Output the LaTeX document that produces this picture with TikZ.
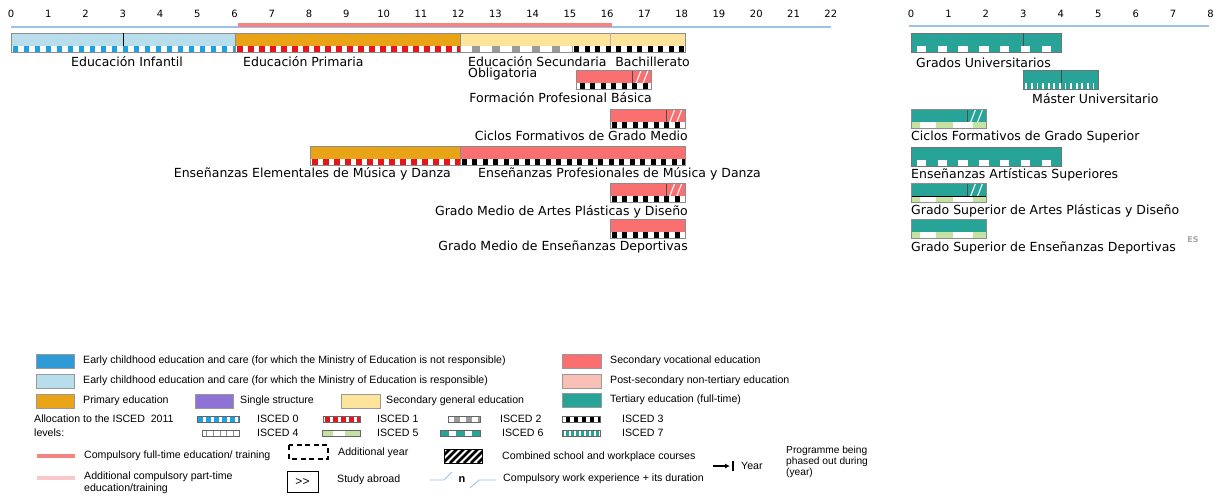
\documentclass[tikz,border=0pt]{standalone}
\usepackage{fontspec}
\setmainfont{DejaVu Sans}
\newfontfamily\legfont{Liberation Sans}
\usetikzlibrary{arrows.meta}
\definecolor{ececNR}{HTML}{2E9BD6}
\definecolor{ececR}{HTML}{B8DDEB}
\definecolor{prim}{HTML}{E8A317}
\definecolor{single}{HTML}{8E72D6}
\definecolor{secgen}{HTML}{FDE49A}
\definecolor{secvoc}{HTML}{FA7070}
\definecolor{postsec}{HTML}{F9C0B8}
\definecolor{tert}{HTML}{28A398}
\definecolor{iscA}{HTML}{1DA1E2}
\definecolor{iscB}{HTML}{E8141C}
\definecolor{iscC}{HTML}{9A9A9A}
\definecolor{iscE}{HTML}{C5E2A5}
\definecolor{axisblue}{HTML}{9CC2E5}
\definecolor{compred}{HTML}{F28482}
\definecolor{comppink}{HTML}{FAC8CB}
\newcommand{\wslash}[2]{\draw[slash] (#1,#2) ++(3.5pt,0pt) -- ++(5pt,13pt) ++(2pt,-13pt) -- ++(5pt,13pt);}
\begin{document}
\begin{tikzpicture}[x=1pt,y=-1pt,
  lbl/.style={font=\fontsize{12.5}{15}\selectfont, inner sep=0pt},
  tick/.style={font=\fontsize{10}{12}\selectfont, inner sep=0pt},
  leg/.style={font=\legfont\fontsize{10.6}{12}\selectfont, inner sep=0pt, anchor=west},
  barline/.style={draw=black!45, line width=0.5pt},
  divider/.style={draw=black!70, line width=0.6pt},
  slash/.style={draw=white, line width=1.1pt},
  sA/.style={draw=iscA, line width=6pt, dash pattern=on 5.5pt off 5.5pt},
  sB/.style={draw=iscB, line width=6pt, dash pattern=on 5.5pt off 5.5pt},
  sC/.style={draw=iscC, line width=6pt, dash pattern=on 8.3pt off 11.7pt},
  sD/.style={draw=black, line width=6pt, dash pattern=on 5pt off 5.5pt},
  sF/.style={draw=white, line width=6pt, dash pattern=on 9.5pt off 11.3pt},
  sG/.style={draw=white, line width=6pt, dash pattern=on 1.8pt off 3.8pt},
  smp/.style={draw=black!60, line width=0.4pt}
]
\fill[white] (0,0) rectangle (1217,496);
\useasboundingbox (0,0) rectangle (1217,496);

% ---------------- left time line ----------------
\begin{scope}[shift={(11,0)}, x=37.45pt]
  \foreach \i in {0,...,22} \node[tick] (tL\i) at (\i*0.995,14) {\i};
  \draw[axisblue, line width=1.2pt] (0,27) -- (21.9,27);
  \draw[compred, line width=3.5pt] (6.05,25) -- (16.05,25);

  % row 1
  \fill[ececR] (0,33) rectangle (6,46);
  \fill[prim] (6,33) rectangle (12,46);
  \fill[secgen] (12,33) rectangle (18,46);
  \fill[white] (0,46) rectangle (18,52);
  \draw[sA] (0,49) ++(1.5pt,0) -- (6,49);
  \draw[sB] (6,49) ++(1.5pt,0) -- (12,49);
  \draw[sC] (12,49) ++(11.7pt,0) -- (15,49);
  \draw[sD] (15,49) ++(1.5pt,0) -- (18,49);
  \draw[barline] (0,33) rectangle (6,52) (6,33) rectangle (12,52) (12,33) rectangle (18,52);
  \draw[black, line width=0.7pt] (3,33) -- (3,46);
  \draw[black!30, line width=0.5pt] (16,33) -- (16,46);

  % row 2 FP Basica
  \fill[secvoc] (15.1,70) rectangle (17.1,83);
  \fill[white] (15.1,83) rectangle (17.1,89);
  \draw[sD] (15.1,86) ++(3pt,0) -- (17.1,86);
  \draw[divider] (16.6,70) -- (16.6,83);
  \wslash{16.6}{83}
  \draw[barline] (15.1,70) rectangle (17.1,89);

  % row 3 CFGM
  \fill[secvoc] (16,109) rectangle (18,122);
  \fill[white] (16,122) rectangle (18,128);
  \draw[sD] (16,125) ++(1.5pt,0) -- (18,125);
  \draw[divider] (17.5,109) -- (17.5,122);
  \wslash{17.5}{122}
  \draw[barline] (16,109) rectangle (18,128);

  % row 4 musica y danza
  \fill[prim] (8,146) rectangle (12,159);
  \fill[secvoc] (12,146) rectangle (18,159);
  \fill[white] (8,159) rectangle (18,165);
  \draw[sB] (8,162) ++(1.5pt,0) -- (12,162);
  \draw[sD] (12,162) ++(1.5pt,0) -- (18,162);
  \draw[barline] (8,146) rectangle (12,165) (12,146) rectangle (18,165);

  % row 5 GM artes plasticas
  \fill[secvoc] (16,183) rectangle (18,196);
  \fill[white] (16,196) rectangle (18,202);
  \draw[sD] (16,199) ++(1.5pt,0) -- (18,199);
  \draw[divider] (17.5,183) -- (17.5,196);
  \wslash{17.5}{196}
  \draw[barline] (16,183) rectangle (18,202);

  % row 6 GM deportivas
  \fill[secvoc] (16,219) rectangle (18,232);
  \fill[white] (16,232) rectangle (18,238);
  \draw[sD] (16,235) ++(1.5pt,0) -- (18,235);
  \draw[barline] (16,219) rectangle (18,238);
\end{scope}

% left labels
\node[lbl] (lInf) at (127,61.5) {Educación Infantil};
\node[lbl, anchor=west] (lPri) at (243,61.5) {Educación Primaria};
\node[lbl, anchor=west] (lESO) at (468,61.5) {Educación Secundaria};
\node[lbl, anchor=west] (lObl) at (468,74.5) {Obligatoria};
\node[lbl, anchor=east] (lBach) at (690,61.5) {Bachillerato};
\node[lbl, anchor=east] (lFPB) at (652,97.5) {Formación Profesional Básica};
\node[lbl, anchor=east] (lCFGM) at (688,135.5) {Ciclos Formativos de Grado Medio};
\node[lbl, anchor=east] (lElem) at (451,173.5) {Enseñanzas Elementales de Música y Danza};
\node[lbl, anchor=west] (lProf) at (478,173.5) {Enseñanzas Profesionales de Música y Danza};
\node[lbl, anchor=east] (lGMAP) at (688,211.5) {Grado Medio de Artes Plásticas y Diseño};
\node[lbl, anchor=east] (lGMED) at (688,246.5) {Grado Medio de Enseñanzas Deportivas};

% ---------------- right time line ----------------
\begin{scope}[shift={(911,0)}, x=37.45pt]
  \foreach \i in {0,...,8} \node[tick] (tR\i) at (\i,14) {\i};
  \draw[axisblue, line width=1.2pt] (-0.05,26) -- (7.95,26);

  % Grados
  \fill[tert] (0,33) rectangle (4,52);
  \draw[sF] (0,49) ++(5.7pt,0) -- (4,49);
  \draw[draw=black!55, line width=0.5pt] (0,33) rectangle (4,52);
  \draw[divider] (3,33) -- (3,46);

  % Master
  \fill[tert] (3,70) rectangle (5,89);
  \draw[sG] (3,86) ++(2pt,0) -- (5,86);
  \draw[draw=black!55, line width=0.5pt] (3,70) rectangle (5,89);
  \draw[divider] (4,70) -- (4,83);

  % CFGS
  \fill[tert] (0,109) rectangle (2,122);
  \fill[white] (0,122) rectangle (2,128);
  \fill[iscE] (0,122) rectangle (0.24,128) (0.667,122) rectangle (1.12,128) (1.655,122) rectangle (2,128);
  \draw[divider] (1.5,109) -- (1.5,122);
  \wslash{1.5}{122}
  \draw[draw=black!45, line width=0.5pt] (0,109) rectangle (2,128);

  % EAS
  \fill[tert] (0,147) rectangle (4,166);
  \draw[sF] (0,163) ++(5.7pt,0) -- (4,163);
  \draw[draw=black!55, line width=0.5pt] (0,147) rectangle (4,166);

  % GS APD
  \fill[tert] (0,183) rectangle (2,196);
  \fill[white] (0,196) rectangle (2,202);
  \fill[iscE] (0,196) rectangle (0.24,202) (0.667,196) rectangle (1.12,202) (1.655,196) rectangle (2,202);
  \draw[divider] (1.5,183) -- (1.5,196);
  \draw[black, line width=0.7pt] (0,196) -- (2,196);
  \wslash{1.5}{196}
  \draw[draw=black!45, line width=0.5pt] (0,183) rectangle (2,202);

  % GS ED
  \fill[tert] (0,219) rectangle (2,232);
  \fill[white] (0,232) rectangle (2,238);
  \fill[iscE] (0,232) rectangle (0.24,238) (0.667,232) rectangle (1.12,238) (1.655,232) rectangle (2,238);
  \draw[draw=black!45, line width=0.5pt] (0,219) rectangle (2,238);
\end{scope}

\node[lbl, anchor=west] (rGU) at (916,62.5) {Grados Universitarios};
\node[lbl, anchor=west] (rMU) at (1032,98.5) {Máster Universitario};
\node[lbl, anchor=west] (rCFGS) at (911,137.5) {Ciclos Formativos de Grado Superior};
\node[lbl, anchor=west] (rEAS) at (911,174.5) {Enseñanzas Artísticas Superiores};
\node[lbl, anchor=west] (rGSAP) at (911,210.5) {Grado Superior de Artes Plásticas y Diseño};
\node[lbl, anchor=west] (rGSED) at (911,247.5) {Grado Superior de Enseñanzas Deportivas};
\node[font=\bfseries\fontsize{8}{9}\selectfont, text=black!35, inner sep=0pt] (es) at (1193,240) {ES};

% ---------------- legend ----------------
\fill[ececNR, draw=black!40, line width=0.4pt] (36,354) rectangle (74,368);
\node[leg] (t1) at (83,361) {Early childhood education and care (for which the Ministry of Education is not responsible)};
\fill[ececR, draw=black!40, line width=0.4pt] (36,374) rectangle (74,388);
\node[leg] (t2) at (83,381) {Early childhood education and care (for which the Ministry of Education is responsible)};
\fill[prim, draw=black!40, line width=0.4pt] (36,394) rectangle (74,408);
\node[leg] (t3) at (83,401) {Primary education};
\fill[single, draw=black!40, line width=0.4pt] (195,394) rectangle (233,408);
\node[leg] (t4) at (240,401) {Single structure};
\fill[secgen, draw=black!40, line width=0.4pt] (341,394) rectangle (380,408);
\node[leg] (t5) at (386,401) {Secondary general education};
\fill[secvoc, draw=black!40, line width=0.4pt] (562,354) rectangle (601,368);
\node[leg] (t6) at (610,361) {Secondary vocational education};
\fill[postsec, draw=black!40, line width=0.4pt] (562,374) rectangle (601,388);
\node[leg] (t7) at (610,381) {Post-secondary non-tertiary education};
\fill[tert, draw=black!40, line width=0.4pt] (562,393) rectangle (601,407);
\node[leg] (t8) at (610,400) {Tertiary education (full-time)};

\node[leg] (tAl) at (34,419) {Allocation to the ISCED~ 2011};
\node[leg] (tLv) at (34,433) {levels:};

% ISCED samples
\begin{scope}[every path/.append style={line width=6pt}]
\fill[white] (197,416) rectangle (239,422);
\draw[iscA, dash pattern=on 5pt off 3pt] (198,419) -- (239,419);
\fill[white] (323,416) rectangle (360,422);
\draw[iscB, dash pattern=on 5pt off 3pt] (325,419) -- (360,419);
\fill[white] (448,416) rectangle (480,422);
\draw[iscC, dash pattern=on 6pt off 6pt] (454,419) -- (480,419);
\fill[white] (562,416) rectangle (600,422);
\draw[black, dash pattern=on 4pt off 4pt] (566,419) -- (600,419);
\fill[white] (202,430) rectangle (239,436);
\draw[black!45, dash pattern=on 0.8pt off 6pt] (206,433) -- (239,433);
\fill[white] (322,430) rectangle (360,436);
\fill[iscE] (322,430) rectangle (333,436) (345,430) rectangle (360,436);
\fill[tert] (440,430) rectangle (480,436);
\draw[white, dash pattern=on 7pt off 9pt] (449,433) -- (480,433);
\fill[tert] (562,430) rectangle (600,436);
\draw[white, dash pattern=on 1.5pt off 3.5pt] (564,433) -- (600,433);
\end{scope}
\draw[smp] (197,416) rectangle (239,422) (323,416) rectangle (360,422) (448,416) rectangle (480,422) (562,416) rectangle (600,422);
\draw[smp] (202,430) rectangle (239,436) (322,430) rectangle (360,436) (440,430) rectangle (480,436) (562,430) rectangle (600,436);
\node[leg] (i0) at (257,419) {ISCED 0};
\node[leg] (i1) at (377,419) {ISCED 1};
\node[leg] (i2) at (500,419) {ISCED 2};
\node[leg] (i3) at (622,419) {ISCED 3};
\node[leg] (i4) at (257,433) {ISCED 4};
\node[leg] (i5) at (377,433) {ISCED 5};
\node[leg] (i6) at (502,433) {ISCED 6};
\node[leg] (i7) at (622,433) {ISCED 7};

% bottom legend
\coordinate (crA) at (37,456); \coordinate (crB) at (75,456);
\draw[compred, line width=3.5pt] (crA) -- (crB);
\node[leg] (b1) at (84,456) {Compulsory full-time education/ training};
\coordinate (cpA) at (37,478); \coordinate (cpB) at (75,478);
\draw[comppink, line width=3.5pt] (cpA) -- (cpB);
\node[leg, anchor=north west, align=left] (b2) at (84,472) {Additional compulsory part-time\\education/training};

\draw[line width=1.5pt, dash pattern=on 5pt off 3.5pt] (289,445) rectangle (328,459);
\node[leg] (b3) at (338,453) {Additional year};
\node[draw, line width=1pt, minimum width=31pt, minimum height=21pt, inner sep=0pt, font=\legfont\fontsize{12}{14}\selectfont] (abroad) at (302.5,481.5) {>>};
\node[leg] (b4) at (337,480) {Study abroad};

\begin{scope}
  \clip (444,449) rectangle (482,463);
  \foreach \k in {0,...,8} \draw[line width=2.6pt] (436+\k*7,463) -- (450+\k*7,449);
\end{scope}
\draw[line width=0.8pt] (444,449) rectangle (482,463);
\node[leg] (b5) at (502,457) {Combined school and workplace courses};

\coordinate (wA) at (430,480); \coordinate (wB) at (444,480); \coordinate (wC) at (452,472);
\coordinate (wD) at (470,488); \coordinate (wE) at (479,480); \coordinate (wF) at (496,480);
\draw[axisblue, line width=0.8pt] (wA) -- (wB) -- (wC);
\draw[axisblue, line width=0.8pt] (wD) -- (wE) -- (wF);
\node[font=\legfont\bfseries\fontsize{11}{12}\selectfont, inner sep=0pt] (nn) at (462,480) {n};
\node[leg] (b6) at (503,479) {Compulsory work experience + its duration};

\coordinate (yA) at (713,466); \coordinate (yB) at (730,466);
\draw[-{Latex[length=5pt,width=5pt]}, line width=1.4pt] (yA) -- (yB);
\draw[line width=1.8pt] (733,461) -- (733,471);
\node[leg] (b7) at (741,466) {Year};
\node[leg, anchor=north west, align=left, font=\legfont\fontsize{10.2}{11}\selectfont] (b8) at (786,446) {Programme being\\phased out during\\(year)};
\end{tikzpicture}
\end{document}
